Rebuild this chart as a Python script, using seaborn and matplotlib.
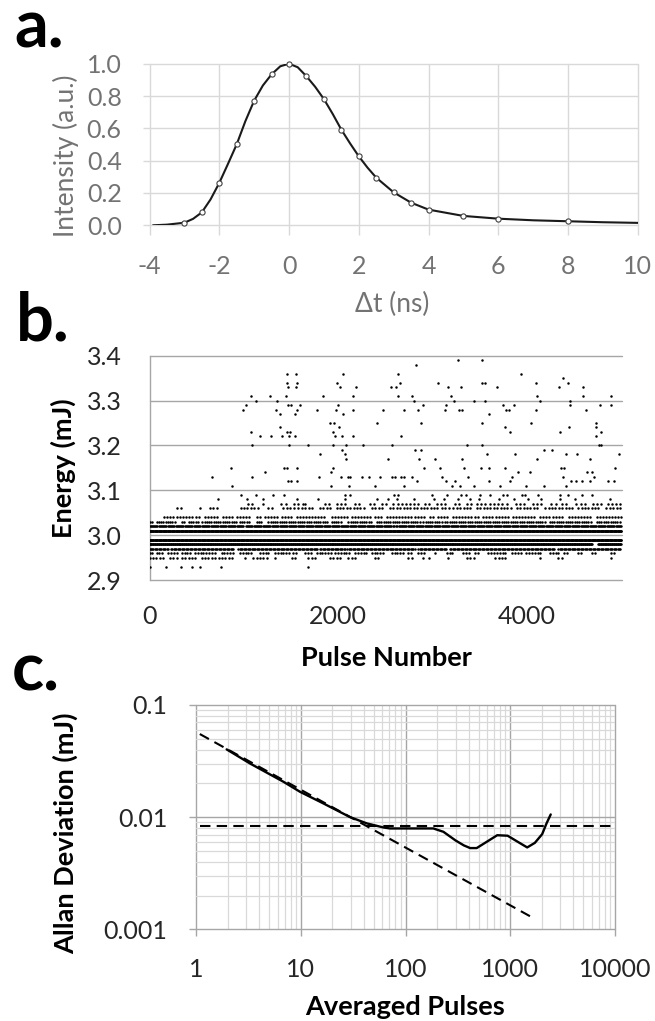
import numpy as np
import pandas as pd
import matplotlib
matplotlib.use("Agg")
import matplotlib.pyplot as plt
import matplotlib.ticker as mticker
import seaborn as sns

# ---------------- Panel a: pulse shape ----------------
a_marker_t = [-3, -2.5, -2, -1.5, -1, -0.5, 0, 0.5, 1, 1.5, 2, 2.5, 3, 3.5, 4, 5, 6, 8]
a_marker_i = [0.016, 0.080, 0.262, 0.501, 0.771, 0.934, 1.0, 0.922, 0.781, 0.592,
              0.427, 0.295, 0.204, 0.140, 0.097, 0.058, 0.041, 0.025]
# extra points
a_curve_t = [-3.9, -3.5, -2.75, -2.25, -1.75, -1.25, -0.75, -0.25, 0.25, 0.75,
             1.25, 1.75, 2.25, 7, 9, 10]
a_curve_i = [0.0, 0.004, 0.040, 0.160, 0.380, 0.645, 0.865, 0.984, 0.978, 0.857,
             0.690, 0.507, 0.357, 0.031, 0.019, 0.015]
a_xticks = [-4, -2, 0, 2, 4, 6, 8, 10]
a_yticks = [0.0, 0.2, 0.4, 0.6, 0.8, 1.0]

# ---------------- Panel b: pulse energies ----------------
# isolated points: energy level -> pulse numbers
b_sparse_levels = [3.39, 3.38, 3.36, 3.35, 3.34, 3.33, 3.31, 3.30, 3.29, 3.28, 3.27,
                   3.25, 3.24, 3.23, 3.22, 3.20, 3.19, 3.18, 3.17, 3.15, 3.14, 3.13,
                   3.12, 3.11, 3.09, 3.08, 2.93]
b_sparse_pulses = [
    [3277, 3525],
    [2829],
    [1464, 1552, 2049, 2643, 3942],
    [4386],
    [1455, 1570, 1987, 2656, 3064, 3534, 3561, 4102, 4443],
    [1472, 1557, 2018, 2191, 2563, 2621, 3171, 3308, 3685, 4346, 4603],
    [1078, 1277, 1450, 1845, 2160, 2639, 2785, 3202, 4111, 4603, 4904],
    [1135, 1353, 2812, 3237, 3446, 3561, 4142, 4466],
    [1029, 1468, 1499, 1601, 1996, 2900, 3149, 3756, 3867, 4461, 4780, 4895],
    [994, 1348, 1566, 1774, 1982, 2160, 2479, 2701, 2847, 3135, 3286, 3321, 3782,
     3818, 4102, 4638],
    [1384, 1543, 2058, 3605],
    [1916, 1960, 2417, 2887, 3534, 4053, 4736],
    [1384, 2009, 3769, 4452, 4745],
    [1082, 1455, 1490, 1943, 3831, 4359, 4794],
    [1175, 1295, 1402, 1477, 1548, 1969, 2040, 2164, 2674, 4745],
    [1087, 1486, 1681, 1947, 2089, 2271, 2572, 3375, 3534, 4771, 4798],
    [2045, 2821, 2883, 4186, 4275],
    [1814, 2071, 3583, 3876, 4421, 4536, 4989],
    [2085, 2532, 2856, 3029, 3321, 4115, 4674],
    [861, 1428, 1455, 1561, 1951, 2914, 3086, 3339, 3521, 3605, 3778, 4372, 4403, 4940],
    [1229, 1929, 3915, 4035, 4647, 4692],
    [661, 1091, 1800, 2036, 2102, 2133, 2253, 2328, 2452, 2572, 2603, 2670, 2705, 2785,
     3100, 3379, 3849, 4390, 4714],
    [1468, 1499, 1570, 2838, 3144, 3246, 3601, 3831, 4470, 4523, 4594, 4678, 4869, 4931],
    [878, 1925, 2120, 2399, 2701, 3211, 3295, 3446, 3720, 3995, 4191, 4426],
    [976, 1135, 1308, 1432, 2071, 2124, 2594, 2634, 2998, 3158, 3308, 3357, 3512, 3614,
     3756, 3792, 3956, 3987, 4129, 4355, 4443, 4594, 4700],
    [723, 1034, 1206, 1570, 1793, 2080, 2417, 2537, 2625, 2803, 3025, 3122, 3277, 3406,
     3499, 3712, 3867, 4017, 4160, 4355, 4519, 4887],
    [0, 170, 330, 450, 540, 760, 1680],
]
# populated energy levels: runs of pulses (start, end) and typical pulse gap
# between neighbouring dots inside a run
b_band_levels = [3.07, 3.06, 3.04, 3.03, 3.02, 3.01, 2.99, 2.98, 2.97, 2.96, 2.95]
b_band_gap = [44, 36, 32, 24, 12, 6, 6, 7, 14, 30, 36]
b_band_runs = [
    [(1042, 1127), (1208, 1208), (1400, 1456), (1537, 1633), (1651, 1680), (1863, 1934),
     (1987, 2111), (2182, 2235), (2341, 2394), (2465, 2536), (2589, 2731), (2766, 2855),
     (2925, 2978), (3049, 3155), (3244, 3315), (3368, 3421), (3474, 3562), (3615, 3800),
     (3889, 4000), (4067, 4177), (4266, 4310), (4377, 4443), (4532, 4621), (4710, 4798),
     (4865, 5010)],
    [(295, 342), (536, 536), (642, 748), (968, 1120), (1155, 1155), (1261, 1332),
     (1421, 1544), (1580, 1757), (1810, 1952), (1987, 2288), (2359, 2483), (2553, 3067),
     (3102, 3191), (3226, 3421), (3474, 3850), (3900, 4150), (4200, 4500), (4550, 4800),
     (4850, 5010)],
    [(150, 260), (290, 450), (490, 540), (590, 748), (784, 907), (925, 1067), (1137, 1190),
     (1226, 1385), (1403, 1509), (1562, 1863), (1934, 2111), (2146, 2359), (2394, 2483),
     (2518, 2784), (2819, 2943), (2979, 3032), (3067, 3191), (3226, 3509), (3545, 3820),
     (3860, 4100), (4150, 4400), (4450, 4700), (4750, 5010)],
    [(0, 41), (76, 288), (342, 377), (419, 518), (561, 925), (960, 1067), (1137, 1208),
     (1261, 1899), (1934, 2040), (2111, 2359), (2412, 2872), (2908, 3102), (3138, 4200),
     (4250, 4700), (4750, 5010)],
    [(0, 1000), (1020, 2600), (2620, 5010)],
    [(0, 5010)],
    [(0, 5010)],
    [(0, 4700), (4760, 5010)],
    [(0, 200), (230, 890), (943, 1790), (1810, 2080), (2100, 2819), (2855, 3155),
     (3191, 4300), (4340, 5010)],
    [(0, 51), (76, 147), (200, 306), (342, 448), (483, 713), (766, 907), (960, 1102),
     (1173, 1279), (1332, 1491), (1527, 1580), (1651, 1722), (1775, 1934), (1970, 2146),
     (2182, 2323), (2359, 2500), (2571, 2695), (2748, 2802), (2855, 2925), (3032, 3032),
     (3155, 3226), (3332, 3403), (3456, 3509), (3598, 3800), (3850, 3950), (4000, 4150),
     (4250, 4350), (4400, 4450), (4550, 4600), (4700, 4750), (4900, 4950)],
    [(0, 76), (111, 165), (218, 324), (342, 518), (554, 907), (1014, 1014), (1102, 1261),
     (1332, 1332), (1509, 1562), (1686, 1793), (1916, 2058), (2111, 2217), (2394, 2465),
     (2748, 2819), (2908, 2908), (2971, 2971), (3173, 3173), (3368, 3456), (3669, 3800),
     (4150, 4180), (4340, 4380), (4900, 4930)],
]
b_xticks = [0, 2000, 4000]
b_yticks = [2.9, 3.0, 3.1, 3.2, 3.3, 3.4]

# ---------------- Panel c: Allan deviation ----------------
c_tau = [1.95, 3.26, 6.79, 9.8, 16.4, 29.5, 42.6, 61.4, 71, 184, 230, 300, 360, 414,
         478, 751, 944, 1189, 1452, 1718, 2018, 2222, 2436]
c_adev = [0.0402, 0.0301, 0.0207, 0.01683, 0.01325, 0.0100, 0.0088, 0.00809, 0.00793,
          0.00793, 0.0074, 0.0062, 0.0056, 0.00530, 0.0053, 0.0069, 0.00683, 0.0060,
          0.00537, 0.0059, 0.00705, 0.0088, 0.01057]
c_fit_tau = [1.08, 1713]
c_fit_adev = [0.0551, 0.00124]
c_floor_tau = [1.08, 10000]
c_floor_adev = [0.00838, 0.00838]
c_xticks = [1, 10, 100, 1000, 10000]
c_yticks = [0.001, 0.01, 0.1]

# ---------------- style ----------------
sns.set_theme(style="white")
plt.rcParams['font.family'] = ['Lato', 'DejaVu Sans']
plt.rcParams['axes.unicode_minus'] = False

W, H = 655, 1021
fig = plt.figure(figsize=(W / 100, H / 100), dpi=100)


def rect(l, t, r, b):
    return [l / W, 1 - b / H, (r - l) / W, (b - t) / H]


TICK = 18
LAB = 19.5

# ---------------- Panel a ----------------
axA = fig.add_axes(rect(149.5, 63.7, 637.8, 225.3))
dfA_curve = pd.DataFrame({'t': a_marker_t + a_curve_t, 'I': a_marker_i + a_curve_i})
dfA_curve = dfA_curve.sort_values('t')
dfA_mark = pd.DataFrame({'t': a_marker_t, 'I': a_marker_i})
sns.lineplot(data=dfA_curve, x='t', y='I', ax=axA, color='#1a1a1a', lw=1.5,
             estimator=None, sort=True, zorder=2)
sns.scatterplot(data=dfA_mark, x='t', y='I', ax=axA, marker='o', s=14,
                facecolor='white', edgecolor='#404040', linewidth=0.8, zorder=3,
                clip_on=False)
axA.set_xlim(-4, 10)
axA.set_ylim(0, 1.0)
axA.set_xticks(a_xticks)
axA.set_xticklabels([f"{v:d}" for v in a_xticks])
axA.set_yticks(a_yticks)
axA.set_yticklabels([f"{v:.1f}" for v in a_yticks])
axA.grid(True, color='#d9d9d9', lw=1.0)
for ln in axA.get_xgridlines() + axA.get_ygridlines():
    ln.set_clip_on(False)
for s in axA.spines.values():
    s.set_visible(False)
axA.tick_params(axis='x', length=7, width=1, color='#d9d9d9', pad=14.5,
                labelsize=TICK, labelcolor='#737373', bottom=True)
axA.tick_params(axis='y', length=5, width=1, color='#d9d9d9', pad=15,
                labelsize=TICK, labelcolor='#737373', left=True)
axA.set_xlabel('Δt (ns)', fontsize=19, color='#737373', va='center')
axA.xaxis.set_label_coords(0.498, -0.487)
axA.set_ylabel('Intensity (a.u.)', fontsize=19, color='#737373', va='center')
axA.yaxis.set_label_coords(-0.1716, 0.432)

# ---------------- Panel b ----------------
axB = fig.add_axes(rect(149.5, 355.7, 622.4, 580.0))
rows_p, rows_e = [], []
for lvl, pulses in zip(b_sparse_levels, b_sparse_pulses):
    rows_p += pulses
    rows_e += [lvl] * len(pulses)
for lvl, gap, runs in zip(b_band_levels, b_band_gap, b_band_runs):
    for a, b in runs:
        p = list(range(a, b + 1, gap))
        rows_p += p
        rows_e += [lvl] * len(p)
dfB = pd.DataFrame({'pulse': rows_p, 'energy': rows_e})
sns.scatterplot(data=dfB, x='pulse', y='energy', ax=axB, color='black', s=3.2,
                linewidth=0, marker='o', zorder=3)
axB.set_xlim(0, 5020)
axB.set_ylim(2.9, 3.4)
axB.set_xticks(b_xticks)
axB.set_xticklabels([f"{v:d}" for v in b_xticks])
axB.set_yticks(b_yticks)
axB.set_yticklabels([f"{v:.1f}" for v in b_yticks])
axB.yaxis.grid(True, color='#a6a6a6', lw=1.0)
axB.xaxis.grid(False)
for ln in axB.get_ygridlines():
    ln.set_clip_on(False)
for k, s in axB.spines.items():
    s.set_visible(k == 'left')
axB.spines['left'].set_color('#a6a6a6')
axB.spines['left'].set_linewidth(1.0)
axB.tick_params(axis='both', length=0, labelsize=TICK, labelcolor='#262626')
axB.tick_params(axis='y', pad=20)
axB.tick_params(axis='x', pad=18)
axB.set_xlabel('Pulse Number', fontsize=LAB, fontweight='bold', color='black', va='center')
axB.xaxis.set_label_coords(0.50, -0.348)
axB.set_ylabel('Energy (mJ)', fontsize=LAB, fontweight='bold', color='black', va='center')
axB.yaxis.set_label_coords(-0.1814, 0.498)

# ---------------- Panel c ----------------
axC = fig.add_axes(rect(196.3, 705.0, 614.9, 929.3))
dfC = pd.DataFrame({'tau': c_tau, 'adev': c_adev})
dfFit = pd.DataFrame({'tau': c_fit_tau, 'adev': c_fit_adev})
dfFloor = pd.DataFrame({'tau': c_floor_tau, 'adev': c_floor_adev})
axC.set_xscale('log')
axC.set_yscale('log')
sns.lineplot(data=dfFit, x='tau', y='adev', ax=axC, color='black', lw=1.5,
             linestyle=(0, (5, 3)), estimator=None, zorder=3)
sns.lineplot(data=dfFloor, x='tau', y='adev', ax=axC, color='black', lw=1.5,
             linestyle=(0, (5, 3)), estimator=None, zorder=3)
sns.lineplot(data=dfC, x='tau', y='adev', ax=axC, color='black', lw=1.7,
             estimator=None, sort=True, zorder=4)
axC.set_xlim(1, 10000)
axC.set_ylim(0.001, 0.1)
axC.xaxis.set_major_locator(mticker.FixedLocator(c_xticks))
axC.yaxis.set_major_locator(mticker.FixedLocator(c_yticks))
axC.xaxis.set_minor_locator(mticker.LogLocator(base=10, subs=range(2, 10), numticks=20))
axC.yaxis.set_minor_locator(mticker.LogLocator(base=10, subs=range(2, 10), numticks=20))
fmt = mticker.FuncFormatter(lambda v, _: f"{v:g}")
axC.xaxis.set_major_formatter(fmt)
axC.yaxis.set_major_formatter(fmt)
axC.xaxis.set_minor_formatter(mticker.NullFormatter())
axC.yaxis.set_minor_formatter(mticker.NullFormatter())
axC.grid(True, which='minor', color='#d9d9d9', lw=0.9)
axC.grid(True, which='major', color='#a6a6a6', lw=1.0)
for ln in axC.get_xgridlines() + axC.get_ygridlines():
    ln.set_clip_on(False)
for s in axC.spines.values():
    s.set_visible(False)
axC.tick_params(axis='both', which='major', length=5, width=1, color='#a6a6a6',
                labelsize=TICK, labelcolor='#262626', bottom=True, left=True)
axC.tick_params(axis='both', which='minor', length=0)
axC.tick_params(axis='y', which='major', pad=16)
axC.tick_params(axis='x', which='major', pad=15.5)
axC.set_xlabel('Averaged Pulses', fontsize=LAB, fontweight='bold', color='black', va='center')
axC.xaxis.set_label_coords(0.4986, -0.346)
axC.set_ylabel('Allan Deviation (mJ)', fontsize=LAB, fontweight='bold', color='black',
               va='center')
axC.yaxis.set_label_coords(-0.3118, 0.428)

# ---------------- panel letters ----------------
for txt, x, y in [('a.', 14, 47), ('b.', 16, 340), ('c.', 12, 690)]:
    fig.text(x / W, 1 - y / H, txt, fontsize=48, fontweight='bold', color='black',
             ha='left', va='baseline')

fig.savefig('out.png', dpi=100)
